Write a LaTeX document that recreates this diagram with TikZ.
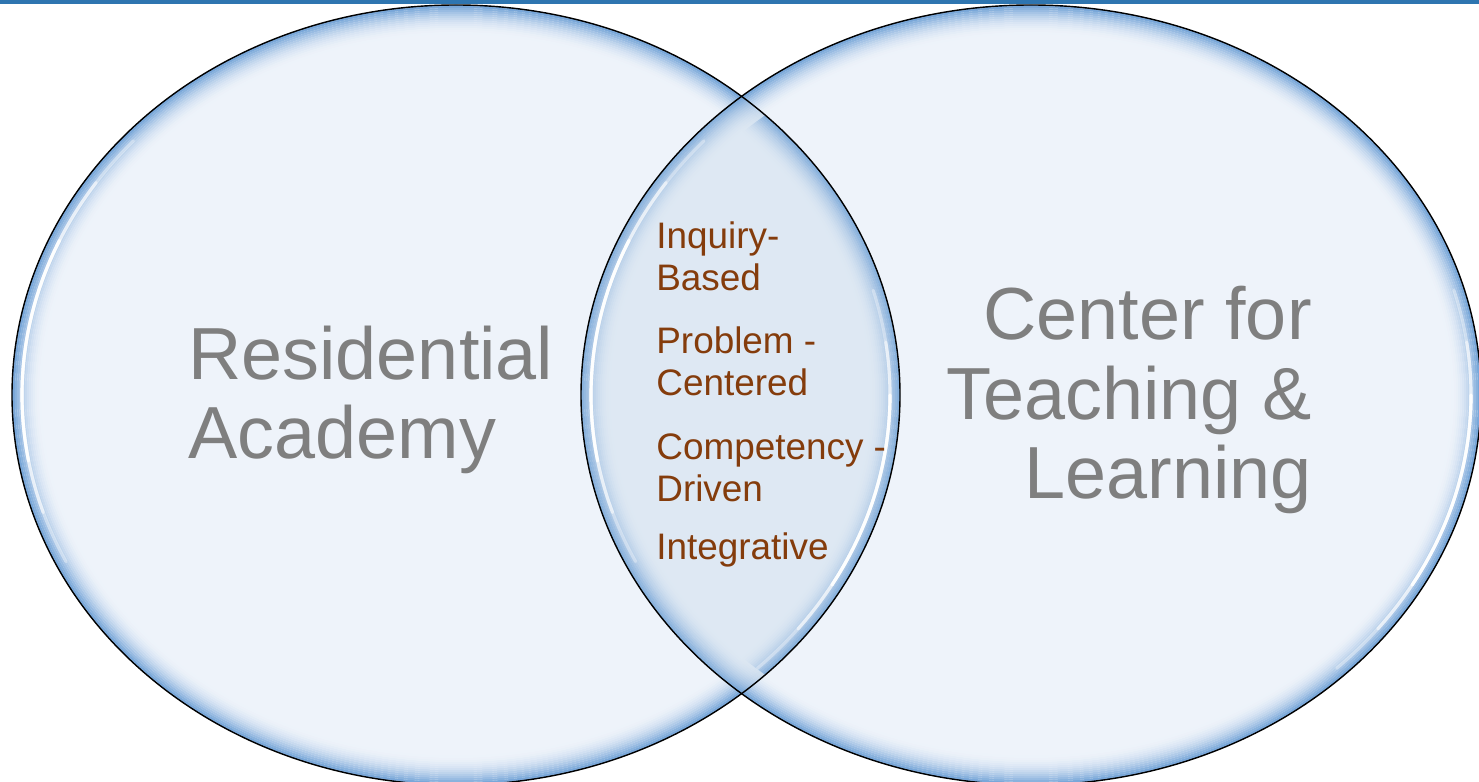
\documentclass[tikz,border=0pt]{standalone}
\usepackage{fontspec}
\setmainfont{Liberation Sans}
\usepackage{xcolor}
\usepackage{tikz}
\usetikzlibrary{positioning}

\definecolor{vennin}{RGB}{238,243,250}
\definecolor{lensin}{RGB}{222,232,243}
\definecolor{vennedge}{RGB}{104,156,212}
\definecolor{topbar}{RGB}{46,117,176}
\definecolor{bigtext}{RGB}{127,127,127}
\definecolor{midtext}{RGB}{132,60,12}

\begin{document}
\begin{tikzpicture}[x=0.02cm, y=0.02cm,
    rim/.style={draw=black, line width=0.8pt},
    band/.style={line width=1.2pt},
    glint/.style={draw=white, line width=1.8pt, line cap=round},
    bigword/.style={text=bigtext, font=\fontsize{42}{45.4}\selectfont, inner sep=0pt},
    midword/.style={text=midtext, font=\fontsize{21}{24.4}\selectfont, align=left, inner sep=0pt, anchor=north west}]
    \useasboundingbox (0, 0) rectangle (1479, 781);

    % top bar
    \fill[topbar] (0, 777) rectangle (1479, 781);

    % the two sets, glass look
    \foreach \cx/\rx in {456/444, 1031/450} {
      \begin{scope}
        \clip (\cx, 386) ellipse [x radius=\rx, y radius=390];
        \fill[vennin] (\cx, 386) ellipse [x radius=\rx, y radius=390];
        \foreach \k in {0,...,14} {
          \pgfmathsetmacro\p{100*(1-\k/15)^2}
          \draw[band, draw=vennedge!\p!vennin] (\cx, 386) ellipse [x radius=\rx-2*\k, y radius=390-2*\k];
        }
      \end{scope}
    }

    % the overlap, a shade darker, both rims showing
    \begin{scope}
      \clip (456, 386) ellipse [x radius=444, y radius=390];
      \clip (1031, 386) ellipse [x radius=450, y radius=390];
      \fill[lensin] (456, 0) rectangle (1031, 781);
      \foreach \cx/\rx in {456/444, 1031/450} {
        \foreach \k in {0,...,14} {
          \pgfmathsetmacro\p{100*(1-\k/15)^2}
          \draw[band, draw=vennedge!\p!lensin, opacity=0.8] (\cx, 386) ellipse [x radius=\rx-2*\k, y radius=390-2*\k];
        }
      }
    \end{scope}

    % highlights, upper left and lower right of each set
    \foreach \cx/\rx in {456/444, 1031/450} {
      \pgfmathsetmacro\hx{\rx-10}
      \foreach \a/\b/\o in {138/206/0.35, 146/198/0.55, 156/190/0.95, -46/16/0.35, -38/8/0.55, -30/0/0.95} {
        \draw[glint, opacity=\o] (\cx, 386) ++({\hx*cos(\a)}, {380*sin(\a)}) arc [start angle=\a, end angle=\b, x radius=\hx, y radius=380];
      }
    }

    \draw[rim] (456, 386) ellipse [x radius=444, y radius=390];
    \draw[rim] (1031, 386) ellipse [x radius=450, y radius=390];

    % labels
    \node[bigword, align=left, anchor=west] (resid) at (188, 381) {Residential\\Academy};
    \node[bigword, align=right, anchor=east] (ctl) at (1312, 381) {Center for\\Teaching \&\\Learning};

    \node[midword] (inq) at (656, 560) {Inquiry-\\Based};
    \node[midword] (prob) at (656, 455) {Problem -\\Centered};
    \node[midword] (comp) at (656, 348) {Competency -\\Driven};
    \node[midword] (integ) at (656, 249) {Integrative};
\end{tikzpicture}
\end{document}
